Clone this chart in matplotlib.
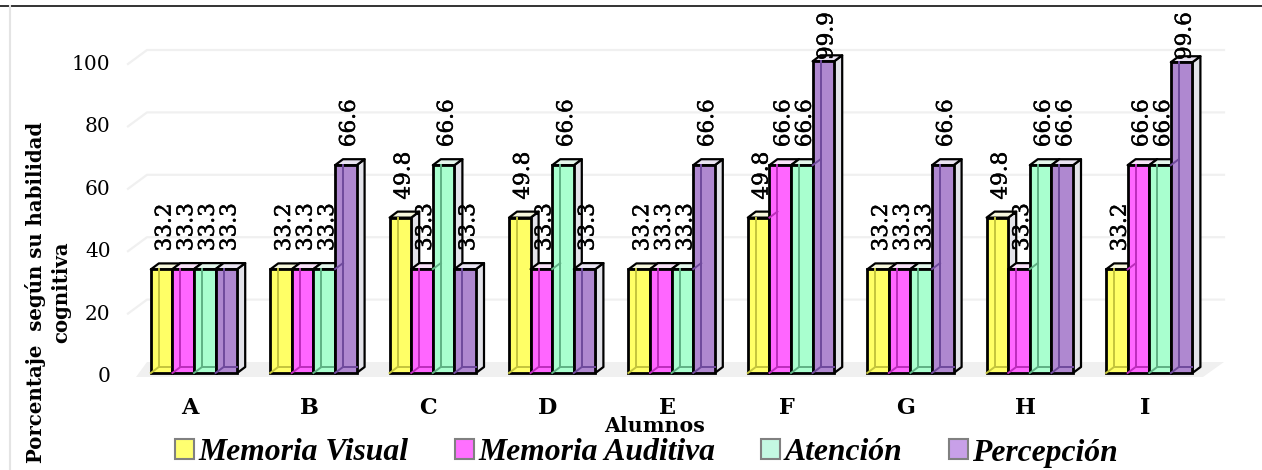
import matplotlib
matplotlib.use("Agg")
import matplotlib.pyplot as plt
import matplotlib.patheffects as pe
from matplotlib.lines import Line2D
from matplotlib.patches import Patch, Polygon
from matplotlib.transforms import ScaledTranslation

W, H = 1262, 470

students = ["A", "B", "C", "D", "E", "F", "G", "H", "I"]
memoria_visual = [33.2, 33.2, 49.8, 49.8, 33.2, 49.8, 33.2, 49.8, 33.2]
memoria_auditiva = [33.3, 33.3, 33.3, 33.3, 33.3, 66.6, 33.3, 33.3, 66.6]
atencion = [33.3, 33.3, 66.6, 66.6, 33.3, 66.6, 33.3, 66.6, 66.6]
percepcion = [33.3, 66.6, 33.3, 33.3, 66.6, 99.9, 66.6, 66.6, 99.6]
series_names = ["Memoria Visual", "Memoria Auditiva", "Atención", "Percepción"]
series_values = [memoria_visual, memoria_auditiva, atencion, percepcion]
y_ticks = [0, 20, 40, 60, 80, 100]

FACE = ["#FFFF66", "#FF66FF", "#A9FFCF", "#AF88D0"]
LEGEND_FACE = ["#FFFF70", "#FF70FF", "#C4F8E2", "#C8A0E8"]
TOP = ["#F6F6DC", "#F8E2F8", "#E4F6EC", "#EAE4F2"]
INNER = ["#C4C43C", "#BC2CBC", "#5FB184", "#6F4A9C"]
SIDE = "#E3E3EA"
GRID = "#F0F0F0"
SERIF = "DejaVu Serif"

# Plot box in pixels; the y scale runs from 0 at 373 to 100 at 61.
left, right, top, bottom = 130, 1240, 61, 373
px_per_x = 119.4
px_per_y = (bottom - top) / 100
x0_px = 194

fig = plt.figure(figsize=(W / 100, H / 100), dpi=100)
ax = fig.add_axes([left / W, 1 - bottom / H, (right - left) / W, (bottom - top) / H])
ax.set_xlim((left - x0_px) / px_per_x, (right - x0_px) / px_per_x)
ax.set_ylim(0, 100)
ax.patch.set_visible(False)
for spine in ax.spines.values():
    spine.set_visible(False)

def dx(px):
    return px / px_per_x

def dy(px):
    return px / px_per_y

# Floor and walls of the pseudo 3D scene
x_l = ax.get_xlim()[0]
wall_l = x_l + dx(17)
wall_r = x_l + dx(1094)
ax.add_patch(Polygon(
    [(x_l + dx(6), dy(-4)), (wall_l, dy(11)), (wall_r, dy(11)), (wall_r - dx(21), dy(-4))],
    closed=True, fc=GRID, ec="none", zorder=0, clip_on=False))
for t in y_ticks[1:]:
    ax.plot([x_l - dx(2), wall_l, wall_r], [t - dy(3), t + dy(11), t + dy(11)], color=GRID,
            lw=1.6, zorder=0, clip_on=False)

bar_w = dx(21.6)
depth_x, depth_y = dx(8), dy(6)
inner_x = dx(8)
label_stroke = [pe.withStroke(linewidth=0.35, foreground="black")]

for j, values in enumerate(series_values):
    z = 2 + j
    xs = [i + (j - 1.5) * bar_w for i in range(len(students))]
    for x, v in zip(xs, values):
        l, r = x - bar_w / 2, x + bar_w / 2
        # side and top faces sit behind the front face
        ax.add_patch(Polygon([(r, 0), (r + depth_x, depth_y), (r + depth_x, v + depth_y), (r, v)],
                             closed=True, fc=SIDE, ec="black", lw=1.6, zorder=z, clip_on=False,
                             joinstyle="round"))
        ax.add_patch(Polygon([(l, v), (l + depth_x, v + depth_y), (r + depth_x, v + depth_y), (r, v)],
                             closed=True, fc=TOP[j], ec="black", lw=1.6, zorder=z, clip_on=False,
                             joinstyle="round"))
    ax.bar(xs, values, width=bar_w, color=FACE[j], edgecolor="black", linewidth=2,
           zorder=z + 0.1, clip_on=False)
    for i, (x, v) in enumerate(zip(xs, values)):
        l, r = x - bar_w / 2, x + bar_w / 2
        # back edges showing through the translucent front
        ax.plot([l + inner_x, l + inner_x, r], [v, depth_y, depth_y], color=INNER[j], lw=1.4,
                zorder=z + 0.2, clip_on=False)
        ax.plot([l, l + inner_x], [0, depth_y], color=INNER[j], lw=1.4, zorder=z + 0.2,
                clip_on=False)
        # a shorter left neighbour's top edge shows through this bar as well
        if j > 0:
            prev = series_values[j - 1][i]
            if prev < v - depth_y:
                ax.plot([l, l + depth_x], [prev, prev + depth_y], color=INNER[j], lw=1.4,
                        zorder=z + 0.2, clip_on=False)

for j, values in enumerate(series_values):
    for i, v in enumerate(values):
        x = i + (j - 1.5) * bar_w + dx(3)
        ax.text(x, min(v + dy(18), 100.3), f"{v:.1f}", rotation=90, ha="center", va="bottom",
                family=SERIF, fontsize=15.5, color="black", zorder=20, clip_on=False,
                path_effects=label_stroke)

ax.set_yticks(y_ticks)
ax.set_yticklabels([str(t) for t in y_ticks], family=SERIF, fontsize=14.5)
ax.set_xticks([i - dx(4.5) for i in range(len(students))])
ax.set_xticklabels(students, family=SERIF, fontsize=16, fontweight="bold")
ax.tick_params(axis="both", length=0)
ax.tick_params(axis="y", pad=14)
ax.tick_params(axis="x", pad=17)
for lab in ax.get_yticklabels():
    lab.set_transform(lab.get_transform() + ScaledTranslation(0, -1.5 / 100, fig.dpi_scale_trans))

fig.text(655 / W, 1 - 426 / H, "Alumnos", family=SERIF, fontsize=14.8, fontweight="bold",
         ha="center", va="center")
fig.text(48 / W, 1 - 292 / H, "Porcentaje  según su habilidad\ncognitiva", family=SERIF,
         fontsize=14.2, fontweight="bold", rotation=90, ha="center", va="center",
         multialignment="center", linespacing=1.3)

handles = [Patch(fc=c, ec="#808080", lw=1.5) for c in LEGEND_FACE]
fig.legend(handles, series_names, loc="center", bbox_to_anchor=(646.5 / W, 1 - 453 / H),
           ncol=4, frameon=False, prop={"family": "Liberation Serif", "size": 22.8,
                                        "style": "italic", "weight": "bold"},
           handlelength=0.6, handleheight=0.6, handletextpad=0.15, columnspacing=1.45,
           borderpad=0, borderaxespad=0)

# Page rules around the figure
fig.add_artist(Line2D([0, 1], [1 - 6 / H, 1 - 6 / H], color="#111111", lw=1.2))
fig.add_artist(Line2D([10 / W, 10 / W], [0, 1 - 6 / H], color="#E4E4E4", lw=1.5))

fig.savefig("out.png", dpi=100)
